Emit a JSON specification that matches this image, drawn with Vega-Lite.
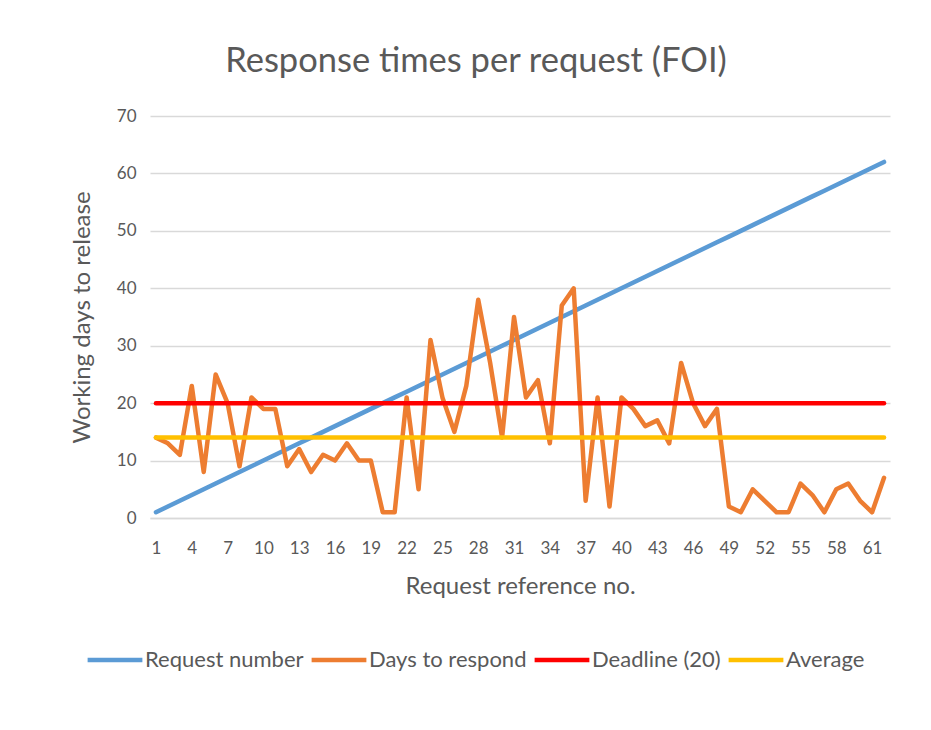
{
  "$schema": "https://vega.github.io/schema/vega-lite/v6.json",
  "autosize": "none",
  "width": 740,
  "height": 402,
  "padding": {"left": 150, "top": 116, "right": 41, "bottom": 212},
  "background": "white",
  "title": {
    "text": "Response times per request (FOI)",
    "font": "Lato",
    "fontSize": 34.5,
    "fontWeight": "normal",
    "color": "#595959",
    "anchor": "middle",
    "offset": 28,
    "dx": -44
  },
  "data": {
    "values": [
      {"ref": 1, "number": 1, "days": 14, "deadline": 20, "average": 14},
      {"ref": 2, "number": 2, "days": 13, "deadline": 20, "average": 14},
      {"ref": 3, "number": 3, "days": 11, "deadline": 20, "average": 14},
      {"ref": 4, "number": 4, "days": 23, "deadline": 20, "average": 14},
      {"ref": 5, "number": 5, "days": 8, "deadline": 20, "average": 14},
      {"ref": 6, "number": 6, "days": 25, "deadline": 20, "average": 14},
      {"ref": 7, "number": 7, "days": 20, "deadline": 20, "average": 14},
      {"ref": 8, "number": 8, "days": 9, "deadline": 20, "average": 14},
      {"ref": 9, "number": 9, "days": 21, "deadline": 20, "average": 14},
      {"ref": 10, "number": 10, "days": 19, "deadline": 20, "average": 14},
      {"ref": 11, "number": 11, "days": 19, "deadline": 20, "average": 14},
      {"ref": 12, "number": 12, "days": 9, "deadline": 20, "average": 14},
      {"ref": 13, "number": 13, "days": 12, "deadline": 20, "average": 14},
      {"ref": 14, "number": 14, "days": 8, "deadline": 20, "average": 14},
      {"ref": 15, "number": 15, "days": 11, "deadline": 20, "average": 14},
      {"ref": 16, "number": 16, "days": 10, "deadline": 20, "average": 14},
      {"ref": 17, "number": 17, "days": 13, "deadline": 20, "average": 14},
      {"ref": 18, "number": 18, "days": 10, "deadline": 20, "average": 14},
      {"ref": 19, "number": 19, "days": 10, "deadline": 20, "average": 14},
      {"ref": 20, "number": 20, "days": 1, "deadline": 20, "average": 14},
      {"ref": 21, "number": 21, "days": 1, "deadline": 20, "average": 14},
      {"ref": 22, "number": 22, "days": 21, "deadline": 20, "average": 14},
      {"ref": 23, "number": 23, "days": 5, "deadline": 20, "average": 14},
      {"ref": 24, "number": 24, "days": 31, "deadline": 20, "average": 14},
      {"ref": 25, "number": 25, "days": 21, "deadline": 20, "average": 14},
      {"ref": 26, "number": 26, "days": 15, "deadline": 20, "average": 14},
      {"ref": 27, "number": 27, "days": 23, "deadline": 20, "average": 14},
      {"ref": 28, "number": 28, "days": 38, "deadline": 20, "average": 14},
      {"ref": 29, "number": 29, "days": 27, "deadline": 20, "average": 14},
      {"ref": 30, "number": 30, "days": 14, "deadline": 20, "average": 14},
      {"ref": 31, "number": 31, "days": 35, "deadline": 20, "average": 14},
      {"ref": 32, "number": 32, "days": 21, "deadline": 20, "average": 14},
      {"ref": 33, "number": 33, "days": 24, "deadline": 20, "average": 14},
      {"ref": 34, "number": 34, "days": 13, "deadline": 20, "average": 14},
      {"ref": 35, "number": 35, "days": 37, "deadline": 20, "average": 14},
      {"ref": 36, "number": 36, "days": 40, "deadline": 20, "average": 14},
      {"ref": 37, "number": 37, "days": 3, "deadline": 20, "average": 14},
      {"ref": 38, "number": 38, "days": 21, "deadline": 20, "average": 14},
      {"ref": 39, "number": 39, "days": 2, "deadline": 20, "average": 14},
      {"ref": 40, "number": 40, "days": 21, "deadline": 20, "average": 14},
      {"ref": 41, "number": 41, "days": 19, "deadline": 20, "average": 14},
      {"ref": 42, "number": 42, "days": 16, "deadline": 20, "average": 14},
      {"ref": 43, "number": 43, "days": 17, "deadline": 20, "average": 14},
      {"ref": 44, "number": 44, "days": 13, "deadline": 20, "average": 14},
      {"ref": 45, "number": 45, "days": 27, "deadline": 20, "average": 14},
      {"ref": 46, "number": 46, "days": 20, "deadline": 20, "average": 14},
      {"ref": 47, "number": 47, "days": 16, "deadline": 20, "average": 14},
      {"ref": 48, "number": 48, "days": 19, "deadline": 20, "average": 14},
      {"ref": 49, "number": 49, "days": 2, "deadline": 20, "average": 14},
      {"ref": 50, "number": 50, "days": 1, "deadline": 20, "average": 14},
      {"ref": 51, "number": 51, "days": 5, "deadline": 20, "average": 14},
      {"ref": 52, "number": 52, "days": 3, "deadline": 20, "average": 14},
      {"ref": 53, "number": 53, "days": 1, "deadline": 20, "average": 14},
      {"ref": 54, "number": 54, "days": 1, "deadline": 20, "average": 14},
      {"ref": 55, "number": 55, "days": 6, "deadline": 20, "average": 14},
      {"ref": 56, "number": 56, "days": 4, "deadline": 20, "average": 14},
      {"ref": 57, "number": 57, "days": 1, "deadline": 20, "average": 14},
      {"ref": 58, "number": 58, "days": 5, "deadline": 20, "average": 14},
      {"ref": 59, "number": 59, "days": 6, "deadline": 20, "average": 14},
      {"ref": 60, "number": 60, "days": 3, "deadline": 20, "average": 14},
      {"ref": 61, "number": 61, "days": 1, "deadline": 20, "average": 14},
      {"ref": 62, "number": 62, "days": 7, "deadline": 20, "average": 14}
    ]
  },
  "transform": [
    {"fold": ["number", "days", "deadline", "average"], "as": ["key", "value"]},
    {"lookup": "key", "from": {"data": {"values": [
      {"key": "number", "series": "Request number"},
      {"key": "days", "series": "Days to respond"},
      {"key": "deadline", "series": "Deadline (20)"},
      {"key": "average", "series": "Average"}
    ]}, "key": "key", "fields": ["series"]}}
  ],
  "mark": {"type": "line", "strokeWidth": 4.5, "strokeCap": "round", "strokeJoin": "round"},
  "encoding": {
    "x": {
      "field": "ref",
      "type": "quantitative",
      "scale": {"domain": [0.5, 62.5], "nice": false, "zero": false},
      "axis": {
        "title": "Request reference no.",
        "values": [1, 4, 7, 10, 13, 16, 19, 22, 25, 28, 31, 34, 37, 40, 43, 46, 49, 52, 55, 58, 61],
        "grid": false,
        "domain": true,
        "domainColor": "#d9d9d9",
        "domainWidth": 1.5,
        "ticks": false,
        "labelPadding": 22,
        "titlePadding": 18
      }
    },
    "y": {
      "field": "value",
      "type": "quantitative",
      "scale": {"domain": [0, 70], "nice": false},
      "axis": {
        "title": "Working days to release",
        "values": [0, 10, 20, 30, 40, 50, 60, 70],
        "grid": true,
        "gridColor": "#d9d9d9",
        "gridWidth": 1.5,
        "domain": false,
        "ticks": false,
        "labelPadding": 14,
        "titlePadding": 22
      }
    },
    "color": {
      "field": "series",
      "type": "nominal",
      "scale": {
        "domain": ["Request number", "Days to respond", "Deadline (20)", "Average"],
        "range": ["#5b9bd5", "#ed7d31", "#ff0000", "#ffc000"]
      },
      "legend": {
        "title": null,
        "orient": "none",
        "direction": "horizontal",
        "legendX": -65,
        "legendY": 514,
        "symbolType": "stroke",
        "symbolSize": 3000,
        "symbolStrokeWidth": 4.5,
        "labelOffset": 0,
        "columnPadding": -2,
        "labelFont": "Lato",
        "labelFontSize": 22,
        "labelColor": "#595959"
      }
    },
    "detail": {"field": "key"}
  },
  "config": {
    "view": {"stroke": null},
    "axis": {
      "labelFont": "Lato",
      "labelFontSize": 17,
      "labelColor": "#595959",
      "titleFont": "Lato",
      "titleFontSize": 24,
      "titleFontWeight": "normal",
      "titleColor": "#595959"
    }
  }
}
